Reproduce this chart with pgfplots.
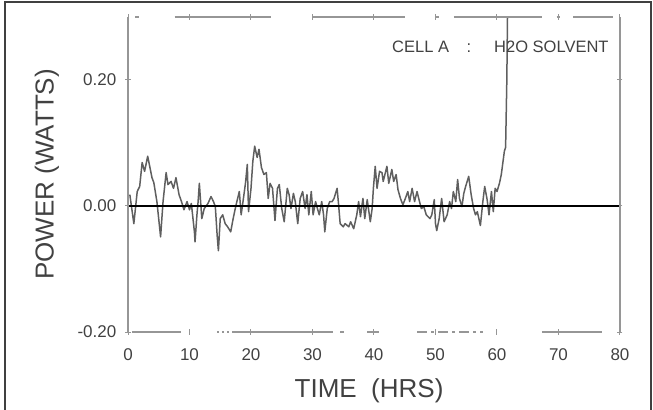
\documentclass[border=0pt]{standalone}
\usepackage{pgfplots}
\pgfplotsset{compat=1.18}
\usepackage{fontspec}
\setmainfont{Liberation Sans}
\definecolor{inkgray}{RGB}{65,65,65}
\definecolor{axisgray}{RGB}{150,150,150}
\definecolor{tracegray}{RGB}{95,95,95}

\begin{document}
\begin{tikzpicture}
\useasboundingbox (0,0) rectangle (653bp,410bp);
% scanned frame round the figure
\draw[black!75, line width=2bp] (5bp,-3bp) -- (5bp,408bp) -- (651bp,408bp) -- (651bp,-3bp);

\begin{axis}[
    at={(128bp,78bp)}, anchor=south west,
    scale only axis, width=492bp, height=315bp,
    xmin=0, xmax=80, ymin=-0.2, ymax=0.3,
    xtick={0,10,...,80},
    ytick={-0.2,0,0.2},
    yticklabels={-0.20,0.00,0.20},
    /pgf/number format/assume math mode=true,
    axis line style={draw=none},
    tick style={axisgray, line width=1bp},
    major tick length=5bp,
    tick align=center,
    clip mode=individual,
    ticklabel style={font=\fontsize{17bp}{19bp}\selectfont, text=inkgray},
    xticklabel style={anchor=center, yshift=-20bp},
    yticklabel style={anchor=east, inner sep=0pt, xshift=-9bp},
    label style={font=\fontsize{26bp}{28bp}\selectfont, text=inkgray},
    xlabel={TIME\ \ (HRS)},
    ylabel={POWER (WATTS)},
    xlabel style={at={(axis description cs:0.49,-0.187)}, anchor=center},
    ylabel style={at={(axis description cs:-0.165,0.5)}, anchor=center},
]

% power trace
\addplot[tracegray, line width=1.5bp, line join=round] coordinates {
(0.3,0.018) (0.95,-0.028) (1.5,0.023) (1.9,0.031) (2.3,0.069) (2.7,0.055)
(3.2,0.079) (3.9,0.045) (4.2,0.037) (4.7,0.007) (5.3,-0.049) (5.7,0.007)
(6.2,0.053) (6.5,0.034) (7.0,0.039) (7.4,0.028) (7.8,0.045) (8.3,0.018)
(8.7,0.007) (9.1,-0.006) (9.6,0.007) (10.0,-0.006) (10.3,0.004) (10.8,-0.041)
(10.9,-0.057) (11.2,-0.015) (11.4,0.007) (11.6,0.036) (12.0,-0.02) (12.4,-0.004)
(13.0,0.004) (13.5,0.015) (13.9,0.007) (14.2,-0.001) (14.5,-0.047) (14.7,-0.071)
(15.0,-0.02) (15.4,-0.014) (15.8,-0.028) (16.2,-0.033) (16.7,-0.041) (17.1,-0.02)
(17.4,-0.006) (17.7,0.007) (18.1,0.023) (18.4,-0.014) (18.7,0.007) (19.1,0.036)
(19.4,0.066) (19.6,-0.009) (20.0,0.028) (20.3,0.071) (20.6,0.095) (21.0,0.077)
(21.3,0.09) (21.7,0.061) (22.1,0.05) (22.5,0.053) (22.8,0.012) (23.1,0.036)
(23.5,0.028) (23.9,-0.023) (24.3,0.028) (24.6,0.034) (25.0,-0.004) (25.4,-0.025)
(25.9,0.028) (26.2,0.018) (26.5,-0.004) (26.9,0.02) (27.2,0.007) (27.6,-0.028)
(28.0,0.012) (28.4,0.023) (28.8,-0.004) (29.1,0.018) (29.4,-0.014) (29.8,0.023)
(30.1,-0.014) (30.5,0.007) (30.8,-0.004) (31.1,-0.014) (31.5,0.007) (31.8,-0.014)
(32.0,-0.041) (32.4,-0.004) (32.8,0.007) (33.2,0.007) (33.5,0.012) (34.0,0.028)
(34.2,0.007) (34.5,-0.028) (35.0,-0.033) (35.3,-0.028) (35.9,-0.033) (36.2,-0.025)
(36.7,-0.036) (37.2,-0.014) (37.5,0.007) (37.8,-0.017) (38.2,0.012) (38.5,-0.02)
(38.9,0.01) (39.4,-0.025) (39.7,-0.004) (39.9,0.028) (40.2,0.063) (40.5,0.028)
(40.9,0.055) (41.3,0.053) (41.5,0.039) (42.1,0.063) (42.4,0.036) (42.9,0.058)
(43.2,0.039) (43.6,0.05) (43.9,0.026) (44.3,0.012) (44.7,0.002) (45.1,0.012)
(45.5,0.023) (45.8,0.007) (46.2,0.028) (46.6,0.007) (47.0,0.023) (47.4,0.007)
(47.7,-0.004) (48.1,-0.001) (48.5,-0.014) (49.1,-0.02) (49.4,-0.014) (49.8,0.01)
(50.0,-0.028) (50.2,-0.039) (50.6,-0.02) (51.0,0.012) (51.4,-0.025) (51.9,-0.014)
(52.3,0.007) (52.6,-0.004) (52.9,0.023) (53.3,0.007) (53.6,0.042) (53.9,0.012)
(54.3,-0.001) (54.6,0.02) (54.9,0.031) (55.4,0.047) (55.8,0.018) (56.2,-0.004)
(56.5,-0.014) (56.8,-0.009) (57.3,-0.031) (57.7,0.007) (58.0,0.031) (58.4,0.01)
(58.7,-0.014) (59.1,0.023) (59.4,-0.009) (59.7,0.028) (60.0,0.023) (60.4,0.036)
(60.7,0.05) (61.2,0.087) (61.4,0.093) (61.6,0.2) (61.7,0.296) (61.8,0.32)
};

% zero line
\addplot[black, line width=1.2bp] coordinates {(0,0) (80,0)};

% axis box: solid sides, broken top and bottom as in the scan
\draw[axisgray, line width=1.3bp] (axis cs:0,-0.2) -- (axis cs:0,0.3);
\draw[axisgray, line width=1.3bp] (axis cs:80,-0.2) -- (axis cs:80,0.3);
\draw[axisgray, line width=1.2bp]
    (axis cs:7.6,0.3) -- (axis cs:23.2,0.3)
    (axis cs:30,0.3) -- (axis cs:45,0.3)
    (axis cs:53,0.3) -- (axis cs:67.3,0.3)
    (axis cs:72.4,0.3) -- (axis cs:78.8,0.3)
    (axis cs:1.2,0.3) -- (axis cs:1.8,0.3)
    (axis cs:50,0.3) -- (axis cs:50.6,0.3)
    (axis cs:69.7,0.3) -- (axis cs:70.3,0.3);
\draw[axisgray, line width=2bp] (axis cs:0.7,-0.2) -- (axis cs:8.6,-0.2);
\draw[axisgray, line width=1.2bp]
    (axis cs:17,-0.2) -- (axis cs:33.3,-0.2)
    (axis cs:38.9,-0.2) -- (axis cs:40.8,-0.2)
    (axis cs:67.3,-0.2) -- (axis cs:77,-0.2)
    (axis cs:34.5,-0.2) -- (axis cs:35.1,-0.2);
\draw[axisgray, line width=1.2bp, dash pattern=on 2bp off 3bp]
    (axis cs:14.5,-0.2) -- (axis cs:17,-0.2);
\draw[axisgray, line width=1.2bp, dash pattern=on 10bp off 4bp on 3bp off 4bp]
    (axis cs:47,-0.2) -- (axis cs:57.7,-0.2);
\end{axis}

% annotation
\begin{scope}[every node/.style={font=\fontsize{16.5bp}{18bp}\selectfont, text=inkgray, inner sep=0pt}]
\node[anchor=base west] at (392bp,357bp) {CELL A};
\node[anchor=base] at (469bp,357bp) {:};
\node[anchor=base west] at (494bp,357bp) {H2O SOLVENT};
\end{scope}
\end{tikzpicture}
\end{document}
